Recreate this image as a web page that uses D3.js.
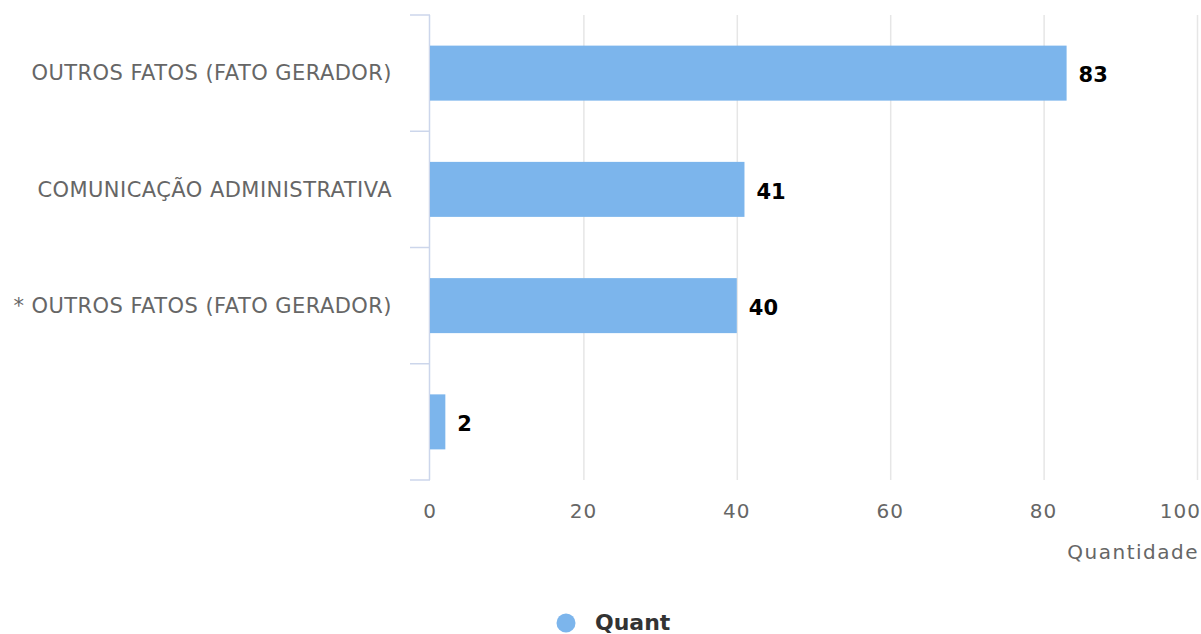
<!DOCTYPE html>
<html>
<head>
<meta charset="utf-8">
<script src="https://cdn.jsdelivr.net/npm/d3@7"></script>
<style>
  body { margin: 0; background: #fff; }
  text { font-family: "DejaVu Sans", Verdana, sans-serif; }
</style>
</head>
<body>
<div id="chart"></div>
<script>
// data
var categories = ["OUTROS FATOS (FATO GERADOR)", "COMUNICAÇÃO ADMINISTRATIVA", "* OUTROS FATOS (FATO GERADOR)", ""];
var values = [83, 41, 40, 2];
var xTicks = [0, 20, 40, 60, 80, 100];
var seriesName = "Quant";
var axisTitle = "Quantidade";

var w = 1201;
var h = 634;
var plotLeft = 430, plotRight = 1197, plotTop = 15, plotBottom = 480;

var svg = d3.select("#chart").append("svg")
  .attr("width", w)
  .attr("height", h);

var xScale = d3.scaleLinear().domain([0, 100]).range([plotLeft, plotRight]);
var band = d3.scaleBand().domain(d3.range(categories.length)).range([plotTop, plotBottom]);
var barH = 55;

// gridlines
svg.append("g").selectAll("line")
  .data(xTicks.slice(1))
  .enter().append("line")
  .attr("x1", d => xScale(d) + 0.5).attr("x2", d => xScale(d) + 0.5)
  .attr("y1", plotTop).attr("y2", plotBottom)
  .attr("stroke", "#e6e6e6").attr("stroke-width", 1.5);

// y axis line + ticks
svg.append("line")
  .attr("x1", plotLeft - 0.5).attr("x2", plotLeft - 0.5)
  .attr("y1", plotTop).attr("y2", plotBottom)
  .attr("stroke", "#ccd6eb").attr("stroke-width", 1.5);
svg.append("g").selectAll("line")
  .data(d3.range(categories.length + 1))
  .enter().append("line")
  .attr("x1", plotLeft - 20).attr("x2", plotLeft)
  .attr("y1", d => plotTop + d * band.bandwidth()).attr("y2", d => plotTop + d * band.bandwidth())
  .attr("stroke", "#ccd6eb").attr("stroke-width", 1.5);

// category labels
svg.append("g").selectAll("text")
  .data(categories)
  .enter().append("text")
  .attr("x", plotLeft - 38)
  .attr("y", (d, i) => band(i) + band.bandwidth() / 2)
  .attr("dy", "0.35em")
  .attr("text-anchor", "end")
  .attr("font-size", 21)
  .attr("letter-spacing", 0.45)
  .attr("fill", "#666")
  .text(d => d);

// bars
svg.append("g").selectAll("rect")
  .data(values)
  .enter().append("rect")
  .attr("x", xScale(0))
  .attr("y", (d, i) => band(i) + (band.bandwidth() - barH) / 2)
  .attr("width", d => xScale(d) - xScale(0))
  .attr("height", barH)
  .attr("fill", "#7cb5ec");

// data labels
svg.append("g").selectAll("text")
  .data(values)
  .enter().append("text")
  .attr("x", d => xScale(d) + 12)
  .attr("y", (d, i) => band(i) + band.bandwidth() / 2 + 2)
  .attr("dy", "0.35em")
  .attr("font-size", 21)
  .attr("font-weight", "bold")
  .attr("fill", "#000")
  .text(d => d);

// x tick labels
svg.append("g").selectAll("text")
  .data(xTicks)
  .enter().append("text")
  .attr("x", (d, i) => i === xTicks.length - 1 ? plotRight + 4 : xScale(d))
  .attr("y", 518)
  .attr("text-anchor", (d, i) => i === xTicks.length - 1 ? "end" : "middle")
  .attr("font-size", 20)
  .attr("letter-spacing", 1)
  .attr("fill", "#666")
  .text(d => d);

// axis title
svg.append("text")
  .attr("x", plotRight + 2)
  .attr("y", 559)
  .attr("text-anchor", "end")
  .attr("font-size", 20)
  .attr("letter-spacing", 1.5)
  .attr("fill", "#666")
  .text(axisTitle);

// legend
svg.append("circle")
  .attr("cx", 566).attr("cy", 623).attr("r", 9.5)
  .attr("fill", "#7cb5ec");
svg.append("text")
  .attr("x", 595).attr("y", 630)
  .attr("font-size", 22)
  .attr("font-weight", "bold")
  .attr("fill", "#333")
  .text(seriesName);
</script>
</body>
</html>
